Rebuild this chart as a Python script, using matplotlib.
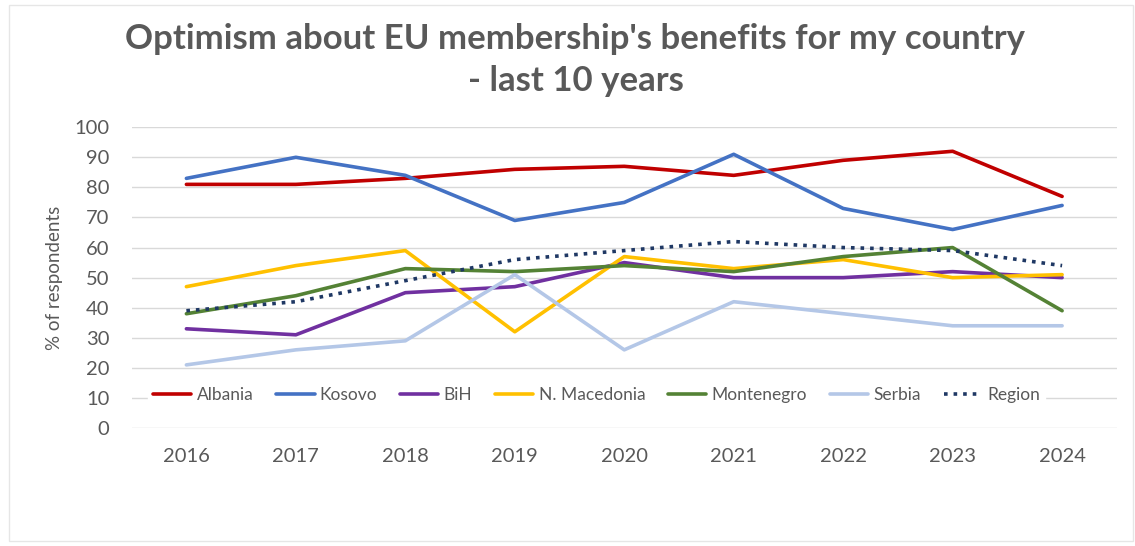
import matplotlib.pyplot as plt
import matplotlib.patches as mpatches

plt.rcParams['font.family'] = ['Lato', 'DejaVu Sans']

years = ['2016', '2017', '2018', '2019', '2020', '2021', '2022', '2023', '2024']

albania = [81, 81, 83, 86, 87, 84, 89, 92, 77]
kosovo = [83, 90, 84, 69, 75, 91, 73, 66, 74]
bih = [33, 31, 45, 47, 55, 50, 50, 52, 50]
n_macedonia = [47, 54, 59, 32, 57, 53, 56, 50, 51]
montenegro = [38, 44, 53, 52, 54, 52, 57, 60, 39]
serbia = [21, 26, 29, 51, 26, 42, 38, 34, 34]
region = [39, 42, 49, 56, 59, 62, 60, 59, 54]

series = [
    ('Albania', albania, '#C00000', '-'),
    ('Kosovo', kosovo, '#4472C4', '-'),
    ('BiH', bih, '#7030A0', '-'),
    ('N. Macedonia', n_macedonia, '#FFC000', '-'),
    ('Montenegro', montenegro, '#548235', '-'),
    ('Serbia', serbia, '#B4C7E7', '-'),
    ('Region', region, '#1F3864', ':'),
]

text_color = '#595959'

fig = plt.figure(figsize=(11.35, 5.46), dpi=100)
ax = fig.add_axes([0.116, 0.216, 0.868, 0.551])

x = range(len(years))
for name, vals, color, ls in series:
    ax.plot(x, vals, color=color, linestyle=ls, linewidth=2.6, label=name,
            solid_capstyle='round')

ax.set_xlim(-0.5, 8.5)
ax.set_ylim(0, 100)
ax.set_yticks(range(0, 101, 10))
ax.set_xticks(list(x))
ax.set_xticklabels(years)
ax.grid(axis='y', color='#D9D9D9', linewidth=1)
ax.set_axisbelow(True)
for s in ax.spines.values():
    s.set_visible(False)
ax.tick_params(length=0, colors=text_color, labelsize=14.5)
ax.tick_params(axis='x', pad=14)
ax.tick_params(axis='y', pad=16)
ax.set_ylabel('% of respondents', color=text_color, fontsize=13.5, labelpad=8)

# legend sits inside the plot over the 10% gridline
leg = ax.legend(loc='center', bbox_to_anchor=(0.472, 0.11), ncol=7, frameon=True,
                fontsize=12.5, handlelength=2.2, handletextpad=0.3,
                columnspacing=1.32, borderpad=0.3, fancybox=False)
leg.get_frame().set_facecolor('white')
leg.get_frame().set_edgecolor('white')
leg.get_frame().set_alpha(1)
for t in leg.get_texts():
    t.set_color(text_color)

fig.text(0.507, 0.928, "Optimism about EU membership's benefits for my country",
         ha='center', va='center', fontsize=25, fontweight='bold', color=text_color)
fig.text(0.507, 0.852, "- last 10 years",
         ha='center', va='center', fontsize=25, fontweight='bold', color=text_color)

fig.patches.append(mpatches.Rectangle((0.008, 0.01), 0.99, 0.98, transform=fig.transFigure,
                                      fill=False, edgecolor='#E6E6E6', linewidth=1))

fig.savefig('out.png', dpi=100)
